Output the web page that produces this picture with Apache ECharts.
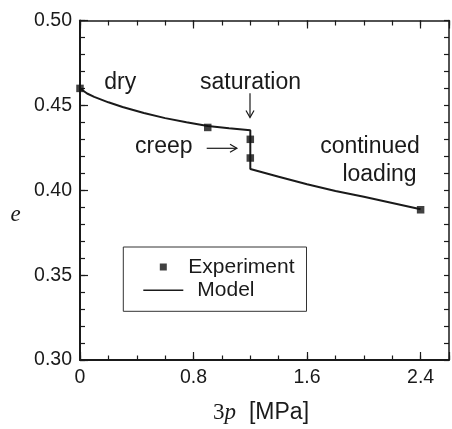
<!DOCTYPE html>
<html><head><meta charset="utf-8">
<script src="https://cdn.jsdelivr.net/npm/echarts@6/dist/echarts.min.js"></script>
<style>html,body{margin:0;padding:0;background:#fff}#c{width:452px;height:429px}</style>
</head><body><div id="c"></div>
<script>
// ---- data ----
const expP = [0, 0.9, 1.2, 1.2, 2.4];
const expE = [0.460, 0.437, 0.430, 0.419, 0.3885];
const modelP = [0, 0.05, 0.1, 0.2, 0.3, 0.45, 0.6, 0.75, 0.9, 1.05, 1.2, 1.2, 1.4, 1.6, 1.8, 2.0, 2.2, 2.4];
const modelE = [0.460, 0.4570, 0.4550, 0.4518, 0.4490, 0.4455, 0.4425, 0.4400, 0.4378, 0.4365, 0.4353,
                0.4125, 0.4080, 0.4035, 0.3996, 0.3962, 0.3925, 0.3888];
const xTickLabels = [0, 0.8, 1.6, 2.4];
const yTickLabels = [0.30, 0.35, 0.40, 0.45, 0.50];
const seriesNames = ['Experiment', 'Model'];

const SANS = "'Liberation Sans', Arial, Helvetica, sans-serif";
const SERIF = "'Liberation Serif', 'Times New Roman', serif";
const INK = '#1a1a1a';

const chart = echarts.init(document.getElementById('c'), null, {renderer: 'canvas'});

const has = (arr, v) => arr.some(a => Math.abs(a - v) < 1e-6);

function xAxisDef(pos, interval, tickLen, opts) {
  return Object.assign({
    type: 'value', position: pos, min: 0, max: 2.6, interval: interval,
    axisLine: {show: false, onZero: false},
    axisTick: {show: true, inside: true, length: tickLen, lineStyle: {color: INK, width: 1.2}},
    axisLabel: {show: false},
    splitLine: {show: false}
  }, opts || {});
}
function yAxisDef(pos, interval, tickLen, opts) {
  return Object.assign({
    type: 'value', position: pos, min: 0.30, max: 0.50, interval: interval,
    axisLine: {show: false, onZero: false},
    axisTick: {show: true, inside: true, length: tickLen, lineStyle: {color: INK, width: 1.2}},
    axisLabel: {show: false},
    splitLine: {show: false}
  }, opts || {});
}

const option = {
  animation: false,
  backgroundColor: '#fff',
  grid: {left: 80, right: 0.3, top: 20.5, bottom: 67.3},
  xAxis: [
    xAxisDef('bottom', 0.8, 8, {
      axisLine: {show: true, onZero: false, lineStyle: {color: INK, width: 2}},
      axisLabel: {show: true, margin: 8, color: INK, fontFamily: SANS, fontSize: 19.5,
        formatter: v => has(xTickLabels, v) ? (v === 0 ? '0' : v.toFixed(1)) : ''},
      name: '{r|3}{i|p}{s|[MPa]}', nameLocation: 'middle', nameGap: 41,
      nameTextStyle: {padding: [0, 7, 0, 0], rich: {
        r: {fontFamily: SERIF, fontSize: 23, color: INK},
        i: {fontFamily: SERIF, fontStyle: 'italic', fontSize: 23, color: INK},
        s: {fontFamily: SANS, fontSize: 23, color: INK, padding: [0, 0, 0, 13]}
      }}
    }),
    xAxisDef('bottom', 0.2, 4.5),
    xAxisDef('top', 0.8, 8, {axisLine: {show: true, onZero: false, lineStyle: {color: INK, width: 1.5}}}),
    xAxisDef('top', 0.2, 5)
  ],
  yAxis: [
    yAxisDef('left', 0.05, 8, {
      axisLine: {show: true, onZero: false, lineStyle: {color: INK, width: 2}},
      axisLabel: {show: true, margin: 8, color: INK, fontFamily: SANS, fontSize: 19.5,
        formatter: v => has(yTickLabels, v) ? v.toFixed(2) : ''}
    }),
    yAxisDef('left', 0.01, 5),
    yAxisDef('right', 0.01, 5, {axisLine: {show: true, onZero: false, lineStyle: {color: INK, width: 1.5}}})
  ],
  legend: {
    orient: 'vertical', left: 123.3, top: 247,
    padding: [9.5, 12, 10.5, 20], itemGap: 2.3,
    itemWidth: 40, itemHeight: 7,
    borderColor: '#333', borderWidth: 1, borderRadius: 0, backgroundColor: '#fff',
    data: [
      {name: seriesNames[0], icon: 'path://M0,0H10V10H0Z'},
      {name: seriesNames[1], icon: 'path://M0,0H40V1.6H0Z'}
    ],
    formatter: n => n === seriesNames[1] ? '{m|' + n + '}' : '{e|' + n + '}',
    textStyle: {color: INK, fontFamily: SANS, fontSize: 21, rich: {
      e: {color: INK, fontFamily: SANS, fontSize: 21, lineHeight: 21},
      m: {color: INK, fontFamily: SANS, fontSize: 21, lineHeight: 21, padding: [0, 0, 0, 9]}
    }}
  },
  series: [
    {
      name: seriesNames[1], type: 'line', xAxisIndex: 0, yAxisIndex: 0,
      data: modelP.map((p, i) => [p, modelE[i]]),
      showSymbol: false, symbol: 'none', smooth: false,
      lineStyle: {color: INK, width: 2}, itemStyle: {color: INK}, z: 2
    },
    {
      name: seriesNames[0], type: 'scatter', xAxisIndex: 0, yAxisIndex: 0,
      data: expP.map((p, i) => [p, expE[i]]),
      symbol: 'rect', symbolSize: 7.5,
      itemStyle: {color: '#111'}, z: 3
    }
  ]
};
chart.setOption(option);

// annotations (axis symbol, text and arrows)
const T = (text, x, y, font) => ({type: 'text', x: x, y: y, silent: true,
  style: {text: text, fill: INK, font: font || ('23px ' + SANS), textAlign: 'center', textVerticalAlign: 'middle'}});
chart.setOption({graphic: [
  T('e', 15.5, 215, 'italic 23px ' + SERIF),
  T('dry', 120.3, 82.4),
  T('saturation', 250.5, 82.9),
  T('creep', 163.8, 146.9),
  T('continued', 370, 146.2),
  T('loading', 379.5, 174.6),
  {type: 'line', silent: true, shape: {x1: 250, y1: 93.3, x2: 250, y2: 117.3}, style: {stroke: INK, lineWidth: 1.2}},
  {type: 'polyline', silent: true, shape: {points: [[246, 110.5], [250, 117.5], [254, 110.5]]}, style: {stroke: INK, lineWidth: 1.2, fill: null}},
  {type: 'line', silent: true, shape: {x1: 206.7, y1: 148.3, x2: 236.7, y2: 148.3}, style: {stroke: INK, lineWidth: 1.2}},
  {type: 'polyline', silent: true, shape: {points: [[230, 144.3], [236.9, 148.3], [230, 152.3]]}, style: {stroke: INK, lineWidth: 1.2, fill: null}}
]});
</script></body></html>
